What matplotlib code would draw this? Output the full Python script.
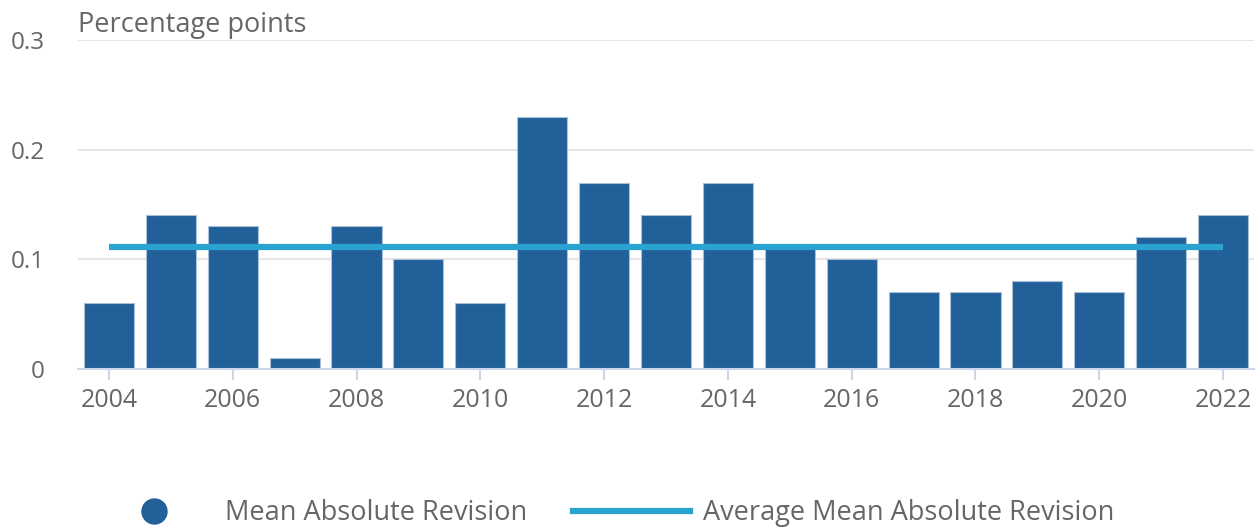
import matplotlib
matplotlib.use("Agg")
import matplotlib.pyplot as plt
from matplotlib.lines import Line2D
import numpy as np

years = [2004, 2005, 2006, 2007, 2008, 2009, 2010, 2011, 2012, 2013,
         2014, 2015, 2016, 2017, 2018, 2019, 2020, 2021, 2022]
mean_abs_revision = [0.06, 0.14, 0.13, 0.01, 0.13, 0.10, 0.06, 0.23, 0.17, 0.14,
                     0.17, 0.11, 0.10, 0.07, 0.07, 0.08, 0.07, 0.12, 0.14]
average_mar = 0.111
yticks = [0, 0.1, 0.2, 0.3]
ytick_labels = ["0", "0.1", "0.2", "0.3"]
xtick_years = list(range(2004, 2023, 2))

plt.rcParams['font.family'] = ['Open Sans', 'DejaVu Sans']
text_color = '#666666'
bar_color = '#22609a'
line_color = '#2ba3d1'

fig = plt.figure(figsize=(12.57, 5.29), dpi=100)
ax = fig.add_axes([78/1257, 1-369/529, (1254-78)/1257, (369-40)/529])

ax.bar(years, mean_abs_revision, width=0.81, color=bar_color,
       edgecolor='#a9c0d8', linewidth=0.8, zorder=2)
ax.plot([years[0], years[-1]], [average_mar, average_mar], color=line_color,
        linewidth=4.5, zorder=3, solid_capstyle='butt')

ax.set_xlim(years[0]-0.5, years[-1]+0.5)
ax.set_ylim(0, 0.3)
ax.set_yticks(yticks)
ax.set_yticklabels(ytick_labels)
ax.set_xticks(xtick_years)
ax.set_xticklabels([str(y) for y in xtick_years])

ax.yaxis.grid(True, color='#e6e6e6', linewidth=1.5, zorder=0)
ax.set_axisbelow(True)
for s in ['top', 'right', 'left']:
    ax.spines[s].set_visible(False)
ax.spines['bottom'].set_color('#ccd6eb')
ax.spines['bottom'].set_linewidth(1.5)
ax.tick_params(axis='y', length=0, pad=24, labelsize=17.5, labelcolor=text_color)
ax.tick_params(axis='x', length=8, width=1.5, color='#ccd6eb', pad=6,
               labelsize=18, labelcolor=text_color)

fig.text(78/1257, 1-25/529, "Percentage points", fontsize=19.5, color=text_color,
         ha='left', va='center')

handles = [Line2D([], [], linestyle='none', marker='o', markersize=18,
                  color=bar_color),
           Line2D([], [], color=line_color, linewidth=4.5)]
labels = ["Mean Absolute Revision", "Average Mean Absolute Revision"]
leg = fig.legend(handles, labels, loc='center', bbox_to_anchor=(605/1257, 1-513/529),
                 ncol=2, frameon=False, fontsize=19.5, handlelength=4.3,
                 handletextpad=0.48, columnspacing=1.7, labelcolor=text_color)

fig.savefig("out.png", dpi=100)
